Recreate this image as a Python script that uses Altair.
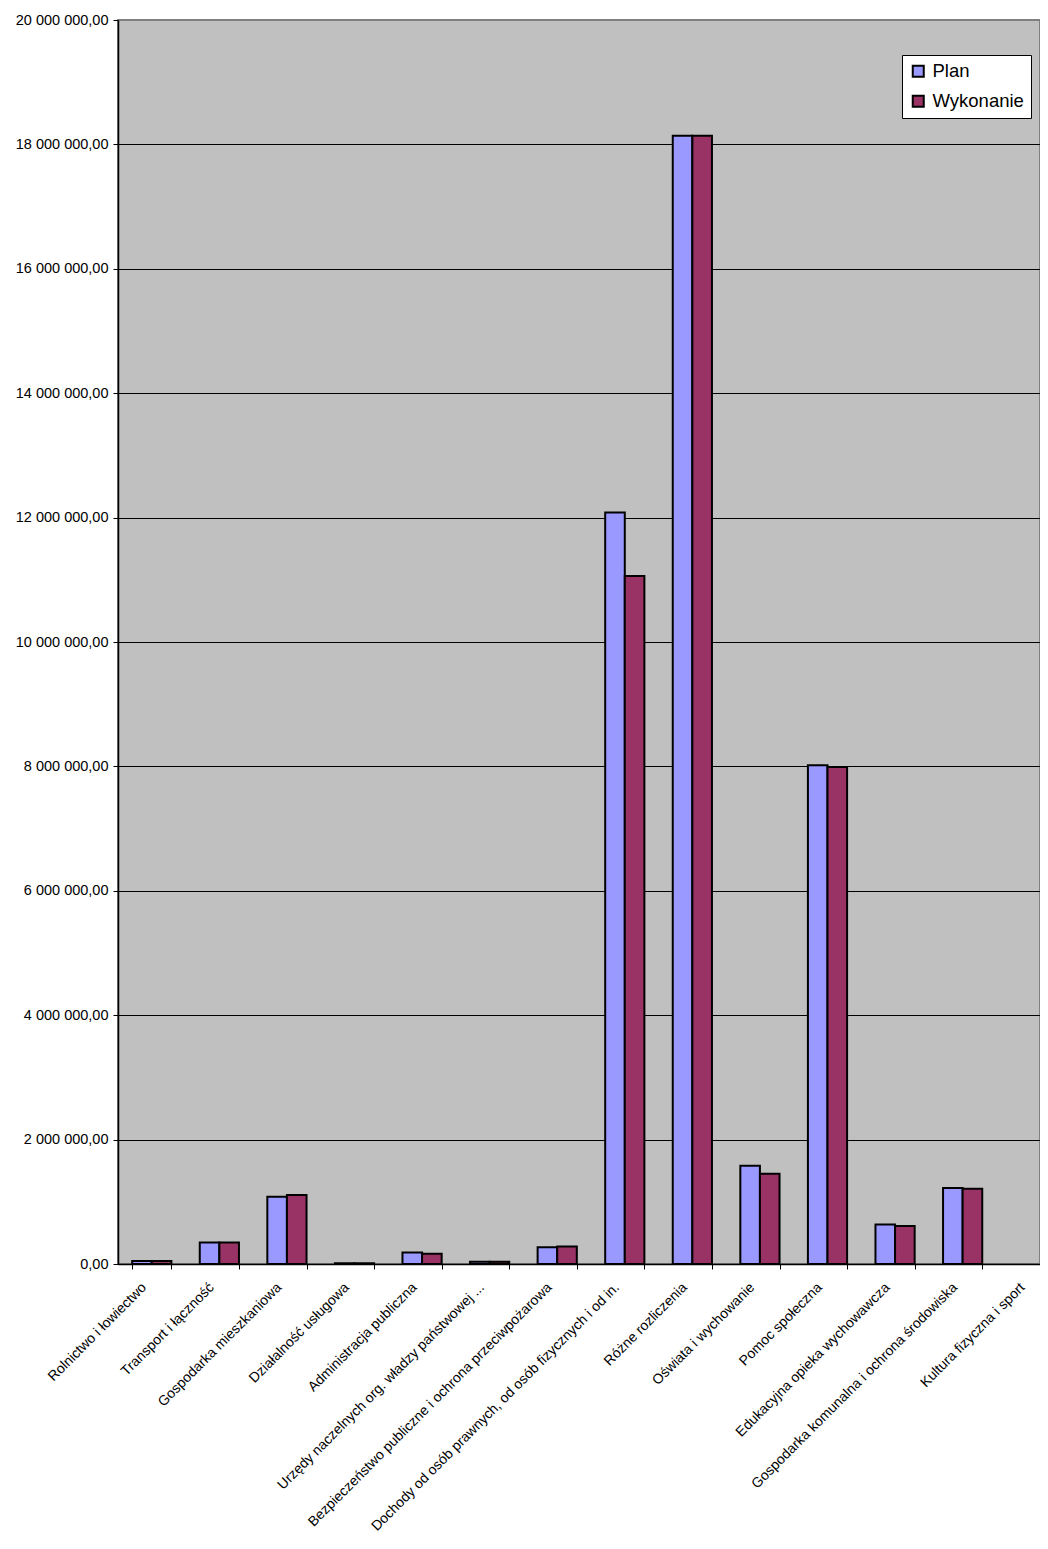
import altair as alt
import pandas as pd

categories = [
    "Rolnictwo i łowiectwo",
    "Transport i łączność",
    "Gospodarka mieszkaniowa",
    "Działalność usługowa",
    "Administracja publiczna",
    "Urzędy naczelnych org. władzy państwowej ...",
    "Bezpieczeństwo publiczne i ochrona przeciwpożarowa",
    "Dochody od osób prawnych, od osób fizycznych i od in.",
    "Różne rozliczenia",
    "Oświata i wychowanie",
    "Pomoc społeczna",
    "Edukacyjna opieka wychowawcza",
    "Gospodarka komunalna i ochrona środowiska",
    "Kultura fizyczna i sport",
]
plan = [50000, 345000, 1080000, 12000, 185000, 38000, 270000, 12080000,
        18140000, 1580000, 8020000, 635000, 1220000, None]
wykonanie = [50000, 345000, 1110000, 12000, 165000, 38000, 280000, 11060000,
             18140000, 1450000, 7990000, 610000, 1210000, None]
series = ["Plan", "Wykonanie"]
colors = ["#9999FF", "#993366"]
y_ticks = [0, 2000000, 4000000, 6000000, 8000000, 10000000,
           12000000, 14000000, 16000000, 18000000, 20000000]

rows = []
for c, p, w in zip(categories, plan, wykonanie):
    rows.append({"kategoria": c, "seria": series[0], "wartosc": p})
    rows.append({"kategoria": c, "seria": series[1], "wartosc": w})
df = pd.DataFrame(rows)

label_expr = "replace(join(split(format(datum.value, ',.2f'), ','), ' '), '.', ',')"
FONT = "Liberation Sans"

chart = alt.Chart(df).mark_bar(stroke="black", strokeWidth=2).encode(
    x=alt.X(
        "kategoria:N",
        sort=categories,
        scale=alt.Scale(domain=categories, range=[0, 946],
                        paddingInner=0.42, paddingOuter=0.21),
        axis=alt.Axis(
            title=None,
            labelAngle=-45,
            labelAlign="right",
            labelBaseline="middle",
            labelOffset=-8,
            labelPadding=16,
            labelLimit=600,
            labelFont=FONT,
            labelFontSize=14,
            labelColor="black",
            tickBand="extent",
            tickSize=5,
            tickColor="black",
            domainColor="black",
            domainWidth=1.5,
            grid=False,
        ),
    ),
    xOffset=alt.XOffset("seria:N", sort=series,
                        scale=alt.Scale(domain=series, paddingInner=0, paddingOuter=0)),
    y=alt.Y(
        "wartosc:Q",
        scale=alt.Scale(domain=[0, 20000000], nice=False),
        axis=alt.Axis(
            title=None,
            values=y_ticks,
            labelExpr=label_expr,
            labelFont=FONT,
            labelFontSize=14.5,
            labelColor="black",
            labelPadding=5,
            tickSize=5,
            tickColor="black",
            domainColor="black",
            domainWidth=1.5,
            grid=True,
            gridColor={"condition": {"test": "datum.value >= 20000000", "value": "#808080"},
                       "value": "black"},
            gridWidth=1,
        ),
    ),
    color=alt.Color(
        "seria:N",
        scale=alt.Scale(domain=series, range=colors),
        legend=alt.Legend(
            title=None,
            orient="none",
            legendX=784,
            legendY=35,
            fillColor="white",
            strokeColor="black",
            padding=7,
            rowPadding=10,
            labelFont=FONT,
            labelFontSize=18.5,
            labelColor="black",
            labelOffset=5,
            symbolType="square",
            symbolSize=121,
            symbolStrokeColor="black",
            symbolStrokeWidth=2,
            symbolOpacity=1,
        ),
    ),
).properties(
    width=922,
    height=1244,
    autosize=alt.AutoSizeParams(type="none"),
    padding={"left": 110, "top": 12, "right": 0, "bottom": 276},
).configure_view(
    fill="#C0C0C0",
    stroke="#808080",
    strokeWidth=2,
)

chart.save("out.html", embed_options={"renderer": "svg", "actions": False})
